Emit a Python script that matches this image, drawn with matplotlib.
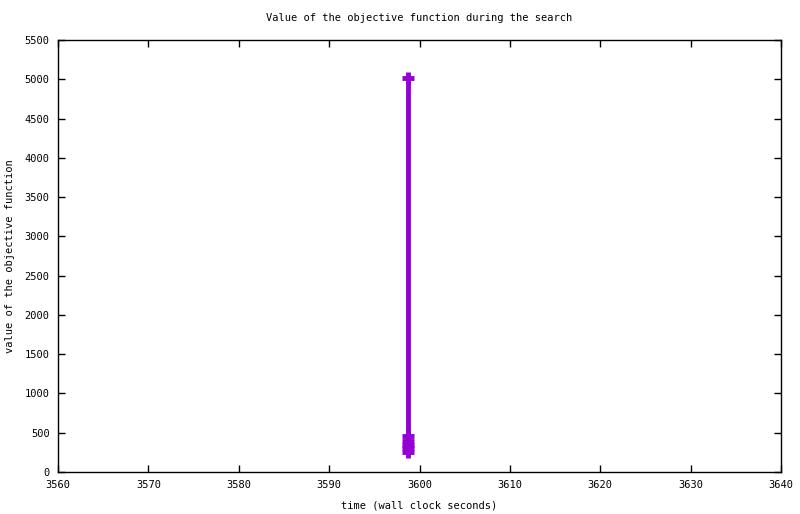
import matplotlib
matplotlib.use("Agg")
import matplotlib.pyplot as plt

# objective value samples (all at nearly the same wall clock time)
times  = [3598.7, 3598.7, 3598.7, 3598.7, 3598.7, 3598.7]
values = [5020, 460, 400, 350, 300, 250]

x_ticks = list(range(3560, 3641, 10))
y_ticks = list(range(0, 5501, 500))

plt.rcParams["font.family"] = "DejaVu Sans Mono"
plt.rcParams["font.size"] = 7.5

fig = plt.figure(figsize=(8, 5.14), dpi=100)
ax = fig.add_axes([0.0725, 0.0817, 0.9038, 0.8405])

ax.plot(times, values, color="#9400D3", linewidth=3.5, marker="+",
        markersize=8, markeredgewidth=3.5)

ax.set_xlim(3560, 3640)
ax.set_ylim(0, 5500)
ax.set_xticks(x_ticks)
ax.set_yticks(y_ticks)
ax.tick_params(direction="in", length=5, width=1, top=True, right=True, pad=6)
for s in ax.spines.values():
    s.set_linewidth(1)

ax.set_title("Value of the objective function during the search", fontsize=7.5, pad=14)
ax.set_xlabel("time (wall clock seconds)", labelpad=7)
ax.set_ylabel("value of the objective function", labelpad=7)

fig.savefig("out.png", dpi=100)
